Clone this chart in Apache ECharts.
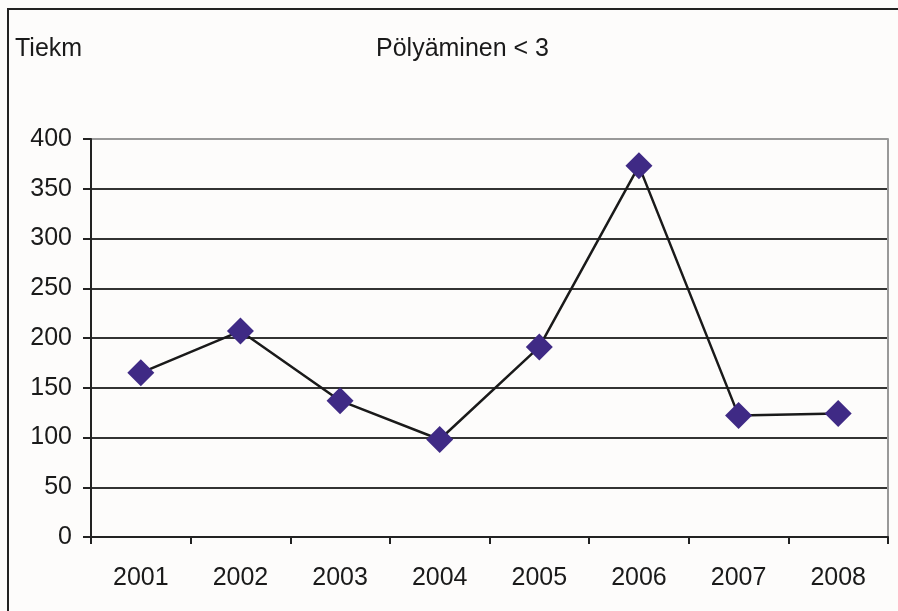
<!DOCTYPE html>
<html>
<head>
<meta charset="utf-8">
<script src="https://cdn.jsdelivr.net/npm/echarts@6/dist/echarts.min.js"></script>
<style>
  html, body { margin: 0; padding: 0; background: #fdfcfb; }
  #chart { width: 898px; height: 611px; }
</style>
</head>
<body>
<div id="chart"></div>
<script>
// Road kilometres with dust level below 3, per year
const years = ['2001', '2002', '2003', '2004', '2005', '2006', '2007', '2008'];
const tiekm = [165, 207, 137, 98, 191, 373, 122, 124];
const yTicks = { min: 0, max: 400, interval: 50 };

const FONT = "'Liberation Sans', Arial, sans-serif";
const chart = echarts.init(document.getElementById('chart'));

chart.setOption({
  backgroundColor: '#fdfcfb',
  animation: false,
  title: [
    { text: 'Pölyäminen < 3', left: 371, top: 32,
      textStyle: { fontFamily: FONT, fontSize: 25, fontWeight: 'normal', color: '#1a1a1a' } },
    { text: 'Tiekm', left: 10, top: 32,
      textStyle: { fontFamily: FONT, fontSize: 25, fontWeight: 'normal', color: '#1a1a1a' } }
  ],
  graphic: [
    { type: 'rect', silent: true, z: 100,
      shape: { x: 8, y: 9, width: 1000, height: 700 },
      style: { fill: 'none', stroke: '#222', lineWidth: 2 } }
  ],
  grid: { left: 91, right: 10, top: 139, bottom: 74 },
  xAxis: {
    type: 'category',
    data: years,
    boundaryGap: true,
    axisLine: { lineStyle: { color: '#222', width: 2 } },
    axisTick: { show: true, interval: 0, length: 7, lineStyle: { color: '#222', width: 2 } },
    axisLabel: { interval: 0, margin: 29, fontFamily: FONT, fontSize: 25, color: '#1a1a1a' },
    splitLine: { show: false }
  },
  yAxis: [
    {
      type: 'value',
      min: yTicks.min, max: yTicks.max, interval: yTicks.interval,
      axisLine: { show: true, lineStyle: { color: '#222', width: 2 } },
      axisTick: { show: true, length: 8, lineStyle: { color: '#222', width: 2 } },
      axisLabel: { margin: 19, fontFamily: FONT, fontSize: 25, color: '#1a1a1a' },
      splitLine: { show: true, lineStyle: {
        color: ['#333', '#333', '#333', '#333', '#333', '#333', '#333', '#333', '#999'],
        width: 2 } }
    },
    {
      type: 'value', position: 'right',
      min: yTicks.min, max: yTicks.max, interval: yTicks.interval,
      axisLine: { show: true, lineStyle: { color: '#999', width: 2 } },
      axisTick: { show: false }, axisLabel: { show: false }, splitLine: { show: false }
    }
  ],
  series: [{
    type: 'line',
    data: tiekm,
    symbol: 'diamond',
    symbolSize: 27,
    itemStyle: { color: '#3f2a85' },
    lineStyle: { color: '#1a1a1a', width: 2.5 },
    z: 5
  }]
});
</script>
</body>
</html>
